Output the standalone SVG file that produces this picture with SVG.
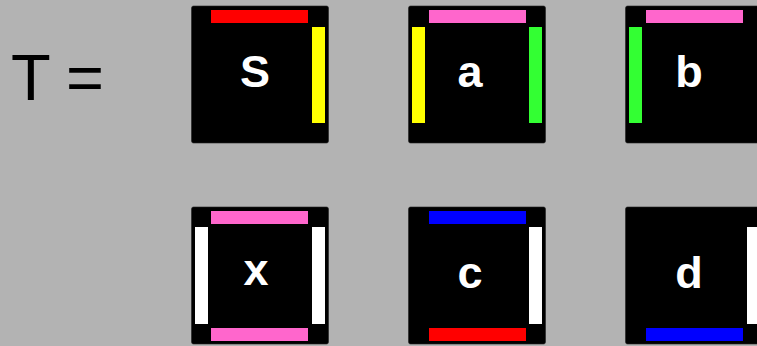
<svg xmlns="http://www.w3.org/2000/svg" width="757" height="346" viewBox="0 0 757 346">
<style>
.tile{fill:#000;stroke:#222;stroke-width:0.6}
.lbl{font-family:"Liberation Sans",Arial,sans-serif;font-weight:bold;font-size:45px;fill:#fff;text-anchor:middle}
.eq{font-family:"Liberation Sans",Arial,sans-serif;font-size:65px;fill:#000}
.red{fill:#ff0000}.yel{fill:#ffff00}.pink{fill:#ff66cc}.grn{fill:#33ff33}.blue{fill:#0000ff}.wht{fill:#ffffff}
</style>
<rect width="757" height="346" fill="#b3b3b3"/>
<g id="label">
<text class="eq" x="11" y="100">T</text>
<text class="eq" x="66" y="100">=</text>
</g>
<g id="tile-S">
<rect class="tile" x="191.5" y="6" width="137" height="137" rx="2"/>
<rect class="red" x="211" y="10" width="97" height="13"/>
<rect class="yel" x="312" y="27" width="13" height="96"/>
<text class="lbl" x="255" y="86.5">S</text>
</g>
<g id="tile-a">
<rect class="tile" x="408.5" y="6" width="137" height="137" rx="2"/>
<rect class="pink" x="429" y="10" width="97" height="13"/>
<rect class="yel" x="412" y="27" width="13" height="96"/>
<rect class="grn" x="529" y="27" width="13" height="96"/>
<text class="lbl" x="470" y="86.5">a</text>
</g>
<g id="tile-b">
<rect class="tile" x="625.5" y="6" width="137" height="137" rx="2"/>
<rect class="pink" x="646" y="10" width="97" height="13"/>
<rect class="grn" x="629" y="27" width="13" height="96"/>
<text class="lbl" x="689" y="86.5">b</text>
</g>
<g id="tile-x">
<rect class="tile" x="191.5" y="207" width="137" height="137" rx="2"/>
<rect class="pink" x="211" y="211" width="97" height="13"/>
<rect class="pink" x="211" y="328" width="97" height="13"/>
<rect class="wht" x="195" y="227" width="13" height="97"/>
<rect class="wht" x="312" y="227" width="13" height="97"/>
<text class="lbl" x="256" y="285">x</text>
</g>
<g id="tile-c">
<rect class="tile" x="408.5" y="207" width="137" height="137" rx="2"/>
<rect class="blue" x="429" y="211" width="97" height="13"/>
<rect class="red" x="429" y="328" width="97" height="13"/>
<rect class="wht" x="529" y="227" width="13" height="97"/>
<text class="lbl" x="470" y="287.5">c</text>
</g>
<g id="tile-d">
<rect class="tile" x="625.5" y="207" width="137" height="137" rx="2"/>
<rect class="blue" x="646" y="328" width="97" height="13"/>
<rect class="wht" x="747" y="227" width="13" height="97"/>
<text class="lbl" x="689" y="287.5">d</text>
</g>
<g id="connectors"/>
</svg>
